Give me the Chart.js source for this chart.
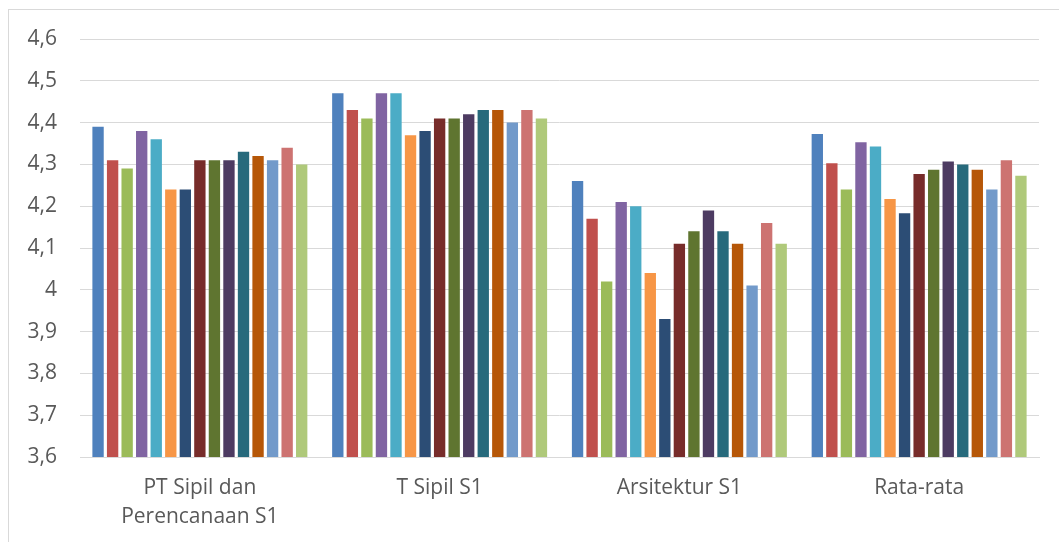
<!DOCTYPE html>
<html>
<head>
<meta charset="utf-8">
<script src="https://cdn.jsdelivr.net/npm/chart.js@4/dist/chart.umd.min.js"></script>
<style>
html,body{margin:0;padding:0;background:#fff;}
#wrap{position:absolute;left:0;top:0;width:1059px;height:542px;}
</style>
</head>
<body>
<div id="wrap"><canvas id="c" width="1059" height="542"></canvas></div>
<script>
const categories = [["PT Sipil dan", "Perencanaan S1"], "T Sipil S1", "Arsitektur S1", "Rata-rata"];
const s1  = [4.39, 4.47, 4.26, 4.373];
const s2  = [4.31, 4.43, 4.17, 4.303];
const s3  = [4.29, 4.41, 4.02, 4.24];
const s4  = [4.38, 4.47, 4.21, 4.353];
const s5  = [4.36, 4.47, 4.20, 4.343];
const s6  = [4.24, 4.37, 4.04, 4.217];
const s7  = [4.24, 4.38, 3.93, 4.183];
const s8  = [4.31, 4.41, 4.11, 4.277];
const s9  = [4.31, 4.41, 4.14, 4.287];
const s10 = [4.31, 4.42, 4.19, 4.307];
const s11 = [4.33, 4.43, 4.14, 4.30];
const s12 = [4.32, 4.43, 4.11, 4.287];
const s13 = [4.31, 4.40, 4.01, 4.24];
const s14 = [4.34, 4.43, 4.16, 4.31];
const s15 = [4.30, 4.41, 4.11, 4.273];
const seriesValues = [s1,s2,s3,s4,s5,s6,s7,s8,s9,s10,s11,s12,s13,s14,s15];
const colors = ["#4F81BD","#C0504D","#9BBB59","#8064A2","#4BACC6","#F79646",
                "#2C4D75","#772C2A","#5F7530","#4D3B62","#276A7C","#B65708",
                "#729ACA","#CD7371","#AFC97A"];
const yTickLabels = {"3.6":"3,6","3.7":"3,7","3.8":"3,8","3.9":"3,9","4.0":"4","4.1":"4,1","4.2":"4,2","4.3":"4,3","4.4":"4,4","4.5":"4,5","4.6":"4,6"};

const FONT = '"Open Sans", sans-serif';

const frame = {
  id: 'frame',
  beforeDraw(chart){
    const ctx = chart.ctx;
    ctx.save();
    ctx.fillStyle = '#fff';
    ctx.fillRect(0,0,chart.width,chart.height);
    ctx.strokeStyle = '#D9D9D9';
    ctx.lineWidth = 1;
    ctx.strokeRect(8.5, 9.5, 1060, 540);
    ctx.restore();
  }
};

new Chart(document.getElementById('c'), {
  type: 'bar',
  data: {
    labels: categories,
    datasets: seriesValues.map((v,i)=>({
      label: 'Seri ' + (i+1),
      data: v,
      backgroundColor: colors[i],
      borderWidth: 0,
      barPercentage: 0.78,
      categoryPercentage: 0.91
    }))
  },
  options: {
    responsive: false,
    animation: false,
    layout: { padding: { left: 0, right: 20, top: 39, bottom: 0 } },
    plugins: { legend: { display: false }, tooltip: { enabled: false } },
    scales: {
      x: {
        grid: { display: false, drawTicks: false },
        border: { display: true, color: '#D9D9D9', width: 1 },
        ticks: { color: '#595959', font: { family: FONT, size: 21, lineHeight: 1.36 }, padding: 17, maxRotation: 0, autoSkip: false },
        afterFit(s){ s.height = 85; }
      },
      y: {
        min: 3.6, max: 4.6,
        grid: { color: '#D9D9D9', lineWidth: 1, drawTicks: false },
        border: { display: false },
        ticks: {
          stepSize: 0.1,
          color: '#595959',
          font: { family: FONT, size: 21 },
          padding: 23,
          callback(v){ return yTickLabels[Number(v).toFixed(1)]; }
        },
        afterFit(s){ s.width = 80; }
      }
    }
  },
  plugins: [frame]
});
</script>
</body>
</html>
